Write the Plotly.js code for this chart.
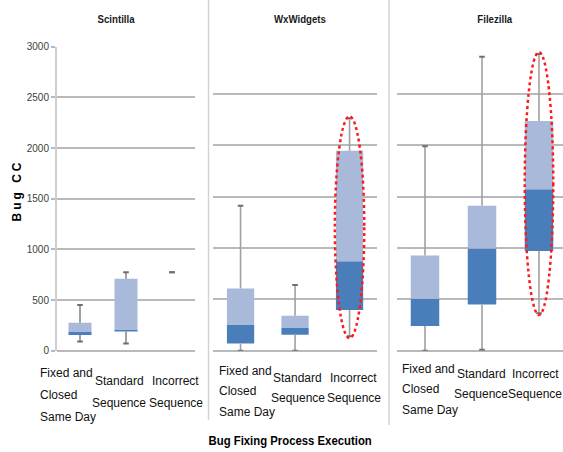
<!DOCTYPE html>
<html>
<head>
<meta charset="utf-8">
<script src="https://cdn.plot.ly/plotly-3.0.1.min.js"></script>
<style>
  html, body { margin: 0; padding: 0; background: #fff; }
  #chart { width: 563px; height: 452px; }
</style>
</head>
<body>
<div id="chart"></div>
<script>
// Bug CC per bug-fixing process execution, three projects
const categories = ['Fixed and Closed Same Day', 'Standard Sequence', 'Incorrect Sequence'];
const tickLabels = [['Fixed and', 'Closed', 'Same Day'], ['Standard', 'Sequence'], ['Incorrect', 'Sequence']];
const projects = ['Scintilla', 'WxWidgets', 'Filezilla'];
const yTicks = [0, 500, 1000, 1500, 2000, 2500, 3000];

const scintillaMin    = [90, 70, 775];
const scintillaQ1     = [155, 190, 775];
const scintillaMedian = [185, 210, 775];
const scintillaQ3     = [275, 710, 775];
const scintillaMax    = [450, 775, 775];

const wxMin    = [0, 0, 140];
const wxQ1     = [70, 155, 395];
const wxMedian = [250, 225, 870];
const wxQ3     = [605, 340, 1945];
const wxMax    = [1410, 640, 2260];

const filezillaMin    = [0, 10, 365];
const filezillaQ1     = [240, 450, 970];
const filezillaMedian = [505, 995, 1570];
const filezillaQ3     = [925, 1410, 2235];
const filezillaMax    = [1990, 2860, 2885];

// category flagged with the dotted ellipse in each project (-1 = none)
const flagged = [-1, 2, 2];

const stats = [
  { min: scintillaMin, q1: scintillaQ1, med: scintillaMedian, q3: scintillaQ3, max: scintillaMax },
  { min: wxMin, q1: wxQ1, med: wxMedian, q3: wxQ3, max: wxMax },
  { min: filezillaMin, q1: filezillaQ1, med: filezillaMedian, q3: filezillaQ3, max: filezillaMax }
];

const W = 563, H = 452;
const px = v => v / W;
const py = v => 1 - v / H;

// panel geometry in pixels
const panels = [
  { x0: 57,    x1: 195, yb: 350.7, yt: 46.7, range: [-0.5, 2.5], whisker: '#8a8a8a' },
  { x0: 213.3, x1: 376.8, yb: 350.7, yt: 42.3, range: [-0.5, 2.5], whisker: '#a0a0a0' },
  { x0: 396.5, x1: 563, yb: 350.7, yt: 42.3, range: [-0.5, -0.5 + (563 - 396.5) / 57], whisker: '#a0a0a0' }
];

const DARK = '#4a7ebb';
const LIGHT = '#a9b9d9';
const GRID = '#b9b9b9';
const SANS = '"Liberation Sans", Arial, sans-serif';

const traces = [];
const layout = {
  width: W, height: H,
  margin: { l: 0, r: 0, t: 0, b: 0 },
  paper_bgcolor: '#fff', plot_bgcolor: '#fff',
  showlegend: false,
  barmode: 'overlay',
  shapes: [],
  annotations: []
};

panels.forEach((p, k) => {
  const sfx = k === 0 ? '' : String(k + 1);
  const xa = 'x' + sfx, ya = 'y' + sfx;
  const s = stats[k];

  layout['xaxis' + sfx] = {
    domain: [px(p.x0), Math.min(1, px(p.x1))],
    anchor: ya,
    type: 'category',
    categoryorder: 'array', categoryarray: categories,
    range: p.range,
    showticklabels: false, ticks: '', showgrid: false, zeroline: false, showline: false
  };
  layout['yaxis' + sfx] = {
    domain: [py(p.yb), py(p.yt)],
    anchor: xa,
    range: [0, 3000],
    tickvals: yTicks,
    ticktext: yTicks.map(String),
    showticklabels: k === 0,
    ticks: k === 0 ? 'outside' : '',
    ticklen: 4, tickwidth: 2, tickcolor: GRID,
    tickfont: { family: SANS, size: 10, color: '#404040' },
    showgrid: true, gridcolor: GRID, gridwidth: 2,
    zeroline: true, zerolinecolor: GRID, zerolinewidth: 2,
    showline: k === 0, linecolor: '#cfcfcf', linewidth: 2
  };

  // whiskers: Q3 -> max and min -> Q1
  const wx = [], wy = [];
  categories.forEach((c, i) => {
    wx.push(c, c, null, c, c, null);
    wy.push(s.q3[i], s.max[i], null, s.min[i], s.q1[i], null);
  });
  traces.push({
    type: 'scatter', mode: 'lines', x: wx, y: wy, xaxis: xa, yaxis: ya,
    line: { color: p.whisker, width: 1.6 }, hoverinfo: 'skip', connectgaps: false
  });

  // lower box: Q1 -> median
  traces.push({
    type: 'bar', x: categories, base: s.q1,
    y: s.med.map((m, i) => m - s.q1[i]),
    xaxis: xa, yaxis: ya, width: 0.5,
    marker: { color: DARK, line: { width: 0 } }, hoverinfo: 'skip'
  });
  // upper box: median -> Q3
  traces.push({
    type: 'bar', x: categories, base: s.med,
    y: s.q3.map((q, i) => q - s.med[i]),
    xaxis: xa, yaxis: ya, width: 0.5,
    marker: { color: LIGHT, line: { width: 0 } }, hoverinfo: 'skip'
  });

  // whisker caps
  traces.push({
    type: 'scatter', mode: 'markers',
    x: categories.concat(categories), y: s.max.concat(s.min),
    xaxis: xa, yaxis: ya,
    marker: { symbol: 'line-ew', size: 4, line: { color: '#6f6f6f', width: 2 } },
    hoverinfo: 'skip'
  });

  // dotted ellipse around the flagged category
  if (flagged[k] >= 0) {
    const i = flagged[k];
    const half = k === 1 ? 0.27 : 0.25;
    layout.shapes.push({
      type: 'circle', xref: xa, yref: ya,
      x0: i - half, x1: i + half,
      y0: s.min[i] - 18, y1: s.max[i] + 20,
      line: { color: '#ff1a1a', width: 2.5, dash: 'dot' }
    });
  }
});

// project titles
const titleX = [116, 300, 495];
projects.forEach((name, k) => {
  layout.annotations.push({
    xref: 'paper', yref: 'paper', x: px(titleX[k]), y: py(19),
    xanchor: 'center', yanchor: 'middle', showarrow: false,
    text: name, font: { family: SANS, size: 11.5, color: '#1a1a1a', weight: 'bold' }
  });
});

// category labels, one annotation per line
const blockCenter = [[395, 392, 391.5], [391, 388, 388], [389, 384, 384]];
const lineGap = [22, 20.5, 20.5];
const labelShift = [[-42, -7, 3.5], [-24, 2.7, 4.3], [-25, -1, -4]];
panels.forEach((p, k) => {
  const xa = k === 0 ? 'x' : 'x' + (k + 1);
  tickLabels.forEach((lines, i) => {
    lines.forEach((line, j) => {
      const yc = blockCenter[k][i] + (j - (lines.length - 1) / 2) * lineGap[k];
      layout.annotations.push({
        xref: xa, yref: 'paper', x: categories[i], y: py(yc),
        xanchor: i === 0 ? 'left' : 'center', yanchor: 'middle',
        xshift: labelShift[k][i], showarrow: false,
        text: line, font: { family: SANS, size: 12, color: '#111' }
      });
    });
  });
});

// axis titles
layout.annotations.push({
  xref: 'paper', yref: 'paper', x: px(290), y: py(440),
  xanchor: 'center', yanchor: 'middle', showarrow: false,
  text: 'Bug Fixing Process Execution',
  font: { family: SANS, size: 13.5, color: '#000', weight: 'bold' }
});
layout.annotations.push({
  xref: 'paper', yref: 'paper', x: px(16.5), y: py(191),
  xanchor: 'center', yanchor: 'middle', showarrow: false, textangle: -90,
  text: 'Bug CC',
  font: { family: SANS, size: 12, color: '#000', weight: 'bold' }
});

// panel separators
layout.shapes.push(
  { type: 'line', xref: 'paper', yref: 'paper', x0: px(208.5), x1: px(208.5), y0: py(0), y1: py(420),
    line: { color: '#d2d2d2', width: 1.5 } },
  { type: 'line', xref: 'paper', yref: 'paper', x0: px(389), x1: px(389), y0: py(0), y1: py(425),
    line: { color: '#d2d2d2', width: 1.5 } }
);

// narrow typeface look for the titles: squeeze text horizontally
const squeeze = el => {
  const len = el.getComputedTextLength();
  el.setAttribute('textLength', (len * 0.84).toFixed(1));
  el.setAttribute('lengthAdjust', 'spacingAndGlyphs');
};

Plotly.newPlot('chart', traces, layout, { staticPlot: true, displayModeBar: false }).then(() => {
  document.querySelectorAll('.annotation-text').forEach(t => {
    const txt = t.textContent;
    if (txt === 'Bug CC') t.style.letterSpacing = '3px';
    else if (txt === 'Bug Fixing Process Execution' || projects.includes(txt)) squeeze(t);
  });
});
</script>
</body>
</html>
